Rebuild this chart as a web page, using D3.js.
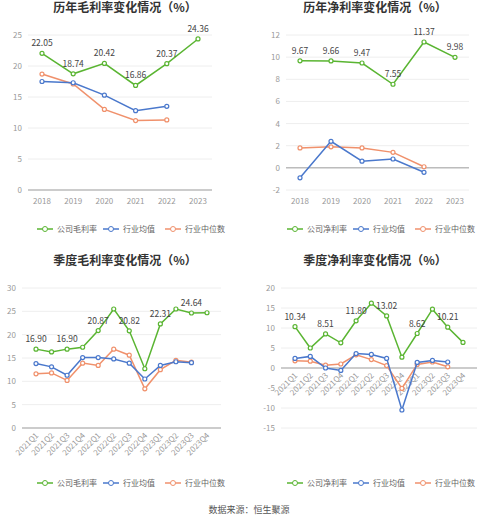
<!DOCTYPE html><html><head><meta charset="utf-8"><script src="https://cdn.jsdelivr.net/npm/d3@7"></script>
<style>body{margin:0;background:#fff;font-family:"Noto Sans CJK SC","Noto Sans",sans-serif}</style></head><body><svg id="c" width="499" height="522"></svg><script>
const years=["2018","2019","2020","2021","2022","2023"];
const quarters=["2021Q1","2021Q2","2021Q3","2021Q4","2022Q1","2022Q2","2022Q3","2022Q4","2023Q1","2023Q2","2023Q3","2023Q4"];
const grossCo=[22.05,18.74,20.42,16.86,20.37,24.36];
const grossAvg=[17.5,17.3,15.3,12.8,13.5];
const grossMed=[18.7,17.1,13.0,11.2,11.3];
const netCo=[9.67,9.66,9.47,7.55,11.37,9.98];
const netAvg=[-0.9,2.4,0.6,0.8,-0.4];
const netMed=[1.8,1.9,1.8,1.4,0.1];
const qGrossCo=[16.90,16.3,16.90,17.3,20.87,25.5,20.82,12.7,22.31,25.5,24.64,24.7];
const qGrossAvg=[13.8,13.1,11.3,15.1,15.1,14.8,13.9,10.5,13.4,14.2,14.0];
const qGrossMed=[11.6,11.8,10.2,13.9,13.4,16.9,15.6,8.4,12.5,14.5,14.1];
const qNetCo=[10.34,5.0,8.51,6.3,11.80,16.2,13.02,2.7,8.62,14.7,10.21,6.4];
const qNetAvg=[2.4,2.9,0,-0.6,3.6,3.4,2.4,-10.5,1.4,1.9,1.5];
const qNetMed=[1.8,1.7,0.7,1.0,3.3,2.1,0.6,-5.1,0.9,1.5,0.3];
const qGrossLbl=[0,2,4,6,8,10], qNetLbl=[0,2,4,6,8,10], yLbl=[0,1,2,3,4,5];
const C={co:"#5ab532",avg:"#4a78cc",med:"#f0916c"};
const svg=d3.select("#c");
function panel(o){
  const g=svg.append("g");
  g.append("text").attr("x",o.cx).attr("y",o.ty).attr("text-anchor","middle").attr("font-size",12).attr("font-weight","bold").attr("fill","#333").text(o.title);
  const x=d3.scalePoint().domain(o.cats).range([o.x0,o.x1]);
  const y=d3.scaleLinear().domain(o.dom).range([o.yb,o.yt]);
  const ticks=d3.range(o.dom[0],o.dom[1]+0.001,o.step);
  ticks.forEach(t=>{
    g.append("line").attr("x1",o.x0-14).attr("x2",o.x1+14).attr("y1",y(t)).attr("y2",y(t)).attr("stroke",t===0?"#999":"#eee");
    g.append("text").attr("x",o.x0-20).attr("y",y(t)+3).attr("text-anchor","end").attr("font-size",8).attr("fill","#999").text(t);
  });
  o.cats.forEach(c=>{
    const t=g.append("text").attr("font-size",8).attr("fill","#999");
    if(o.rot){t.attr("transform",`translate(${x(c)+3},${y(0)+8}) rotate(-45)`).attr("text-anchor","end").text(c);}
    else t.attr("x",x(c)).attr("y",o.yb+14).attr("text-anchor","middle").text(c);
  });
  const ln=d3.line().x((d,i)=>x(o.cats[i])).y(d=>y(d));
  [[o.med,C.med],[o.avg,C.avg],[o.co,C.co]].forEach(([d,col])=>{
    g.append("path").attr("d",ln(d)).attr("fill","none").attr("stroke",col).attr("stroke-width",1.5);
    d.forEach((v,i)=>g.append("circle").attr("cx",x(o.cats[i])).attr("cy",y(v)).attr("r",2).attr("fill","#fff").attr("stroke",col).attr("stroke-width",1.2));
  });
  o.lbl.forEach(i=>g.append("text").attr("x",x(o.cats[i])).attr("y",y(o.co[i])-7).attr("text-anchor","middle").attr("font-size",8.5).attr("fill","#444").text(o.co[i].toFixed(2)));
  const names=[["公司毛利率",C.co],["行业均值",C.avg],["行业中位数",C.med]];
  if(o.net) names[0][0]="公司净利率";
  let lx=o.cx-88;
  names.forEach(([n,col],k)=>{
    const xx=lx+[0,66,128][k];
    g.append("line").attr("x1",xx).attr("x2",xx+16).attr("y1",o.ly).attr("y2",o.ly).attr("stroke",col).attr("stroke-width",1.5);
    g.append("circle").attr("cx",xx+8).attr("cy",o.ly).attr("r",2.5).attr("fill","#fff").attr("stroke",col);
    g.append("text").attr("x",xx+20).attr("y",o.ly+3).attr("font-size",8).attr("fill","#666").text(n);
  });
}
panel({title:"历年毛利率变化情况（%）",cx:125,ty:12,cats:years,x0:42,x1:198,yt:35,yb:190,dom:[0,25],step:5,co:grossCo,avg:grossAvg,med:grossMed,lbl:yLbl,ly:229});
panel({title:"历年净利率变化情况（%）",cx:375,ty:12,cats:years,x0:300,x1:455,yt:35,yb:190,dom:[-2,12],step:2,co:netCo,avg:netAvg,med:netMed,lbl:yLbl,ly:229,net:true});
panel({title:"季度毛利率变化情况（%）",cx:125,ty:265,cats:quarters,x0:36,x1:207,yt:288,yb:428,dom:[0,30],step:5,co:qGrossCo,avg:qGrossAvg,med:qGrossMed,lbl:qGrossLbl,ly:483,rot:true});
panel({title:"季度净利率变化情况（%）",cx:375,ty:265,cats:quarters,x0:295,x1:463,yt:288,yb:428,dom:[-15,20],step:5,co:qNetCo,avg:qNetAvg,med:qNetMed,lbl:qNetLbl,ly:483,rot:true,net:true});
svg.append("text").attr("x",249).attr("y",513).attr("text-anchor","middle").attr("font-size",9).attr("fill","#555").text("数据来源：恒生聚源");
</script></body></html>
